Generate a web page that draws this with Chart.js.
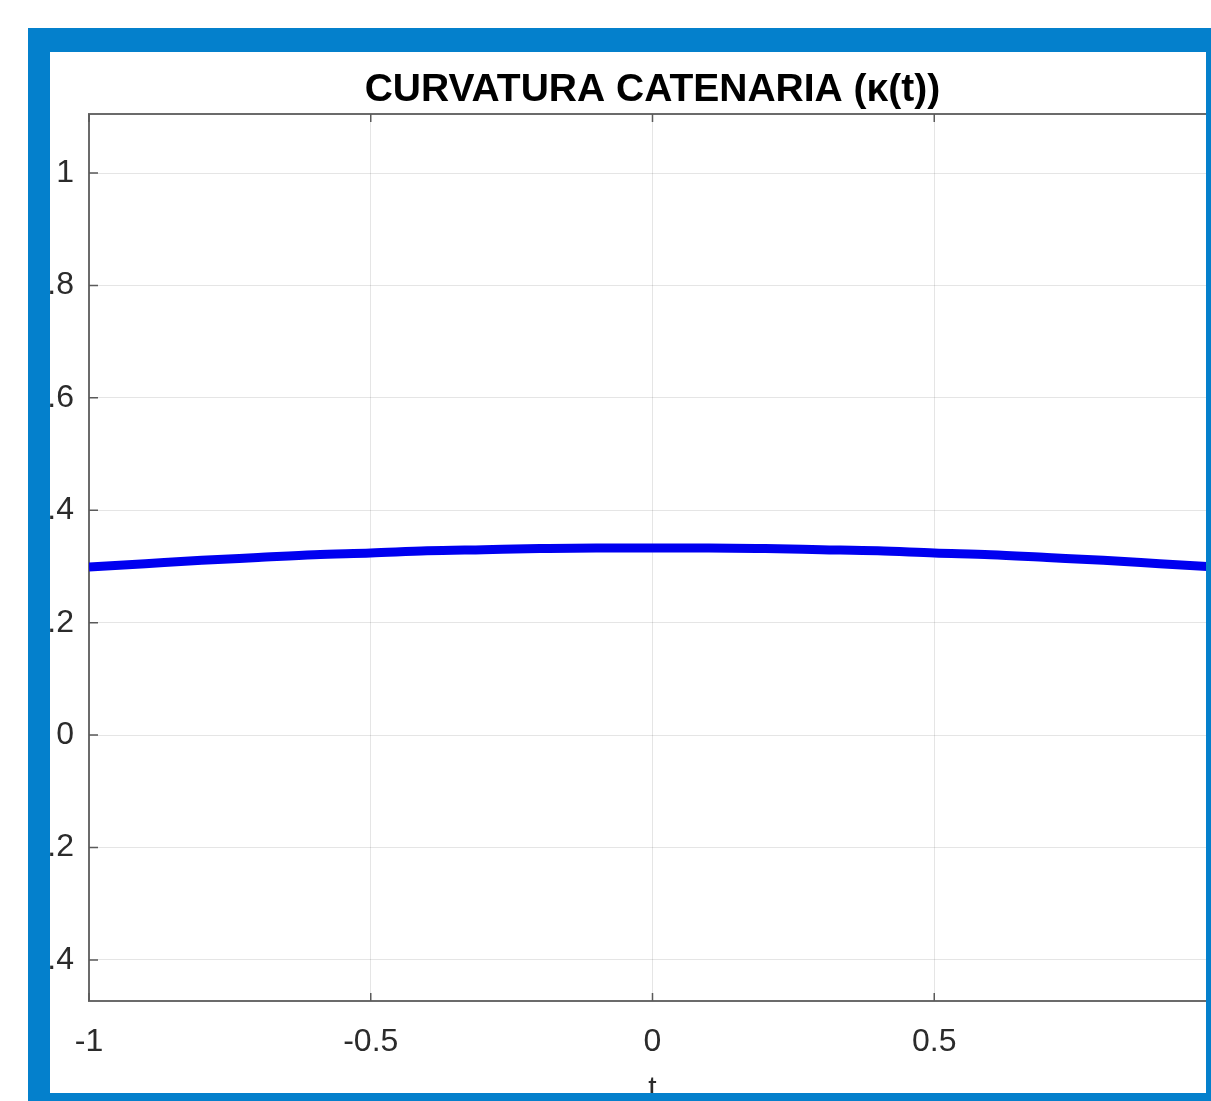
<!DOCTYPE html>
<html>
<head>
<meta charset="utf-8">
<script src="https://cdn.jsdelivr.net/npm/chart.js@4"></script>
<style>
  html, body { margin: 0; padding: 0; overflow: hidden; background: #fff; width: 1211px; height: 1101px; }
  #marco {
    position: absolute; left: 28px; top: 28px;
    width: 1156px; height: 1041px;
    border-style: solid; border-color: #0480cc;
    border-width: 24px 22px 22px 22px;
    overflow: hidden; background: #fff;
  }
  #grafico { position: absolute; left: -50px; top: -52px; }
</style>
</head>
<body>
<div id="marco"><canvas id="grafico" width="1305" height="1101"></canvas></div>
<script>
// valores
const tiempos = [-1, -0.9, -0.8, -0.7, -0.6, -0.5, -0.4, -0.3, -0.2, -0.1, 0,
                 0.1, 0.2, 0.3, 0.4, 0.5, 0.6, 0.7, 0.8, 0.9, 1];
const curvatura = [0.299, 0.305, 0.311, 0.316, 0.321, 0.324, 0.328, 0.330, 0.332, 0.333, 0.333,
                   0.333, 0.332, 0.330, 0.328, 0.324, 0.321, 0.316, 0.311, 0.305, 0.299];
const ticksX = [-1, -0.5, 0, 0.5, 1];
const ticksY = [-0.4, -0.2, 0, 0.2, 0.4, 0.6, 0.8, 1];

const puntos = [];
for (let i = 0; i < tiempos.length; i++) {
  puntos.push({ x: tiempos[i], y: curvatura[i] });
}

const fuente = 'Liberation Sans, Arial, Helvetica, sans-serif';

// marcas hacia adentro, estilo matlab
const marcasAdentro = {
  id: 'marcasAdentro',
  afterDraw(chart) {
    const ctx = chart.ctx;
    const area = chart.chartArea;
    const x = chart.scales.x, y = chart.scales.y;
    ctx.save();
    ctx.strokeStyle = '#5a5a5a';
    ctx.lineWidth = 1.5;
    ctx.beginPath();
    ticksX.forEach(v => {
      const px = x.getPixelForValue(v);
      ctx.moveTo(px, area.bottom); ctx.lineTo(px, area.bottom - 8);
      ctx.moveTo(px, area.top); ctx.lineTo(px, area.top + 8);
    });
    ticksY.forEach(v => {
      const py = y.getPixelForValue(v);
      ctx.moveTo(area.left, py); ctx.lineTo(area.left + 9, py);
    });
    ctx.stroke();
    ctx.restore();
  }
};

new Chart(document.getElementById('grafico'), {
  type: 'line',
  data: {
    datasets: [{
      data: puntos,
      borderColor: '#0000f0',
      borderWidth: 9,
      pointRadius: 0,
      fill: false,
      cubicInterpolationMode: 'monotone'
    }]
  },
  options: {
    responsive: false,
    animation: false,
    layout: { padding: 0 },
    plugins: {
      legend: { display: false },
      tooltip: { enabled: false },
      title: {
        display: true,
        text: 'CURVATURA CATENARIA (κ(t))',
        color: '#000',
        font: { family: fuente, size: 39, weight: 'bold', lineHeight: 1.2 },
        padding: { top: 67, bottom: 0.2 }
      }
    },
    scales: {
      x: {
        type: 'linear',
        position: 'bottom',
        min: -1, max: 1,
        afterFit: s => { s.height = 100; },
        afterBuildTicks: s => { s.ticks = ticksX.map(v => ({ value: v })); },
        ticks: {
          color: '#2b2b2b',
          font: { family: fuente, size: 32 },
          padding: 22,
          maxRotation: 0,
          callback: v => String(v)
        },
        grid: { color: 'rgba(0,0,0,0.1)', lineWidth: 1, drawTicks: false },
        border: { color: '#6b6b6b', width: 2 },
        title: {
          display: true,
          text: 't',
          color: '#2b2b2b',
          font: { family: fuente, size: 30, lineHeight: 0.85 },
          padding: 0
        }
      },
      x2: {
        type: 'linear',
        position: 'top',
        min: -1, max: 1,
        afterFit: s => { s.height = 0; },
        ticks: { display: false },
        grid: { display: false, drawTicks: false },
        border: { display: true, color: '#6b6b6b', width: 2 }
      },
      y: {
        type: 'linear',
        position: 'left',
        min: -0.473, max: 1.105,
        afterFit: s => { s.width = 89; },
        afterBuildTicks: s => { s.ticks = ticksY.map(v => ({ value: v })); },
        ticks: {
          color: '#2b2b2b',
          font: { family: fuente, size: 32 },
          padding: 15,
          callback: v => String(Math.round(v * 10) / 10)
        },
        grid: { color: 'rgba(0,0,0,0.1)', lineWidth: 1, drawTicks: false },
        border: { color: '#6b6b6b', width: 2 }
      },
      y2: {
        type: 'linear',
        position: 'right',
        afterFit: s => { s.width = 89; },
        ticks: { display: false },
        grid: { display: false, drawTicks: false },
        border: { display: false }
      }
    }
  },
  plugins: [marcasAdentro]
});
</script>
</body>
</html>
